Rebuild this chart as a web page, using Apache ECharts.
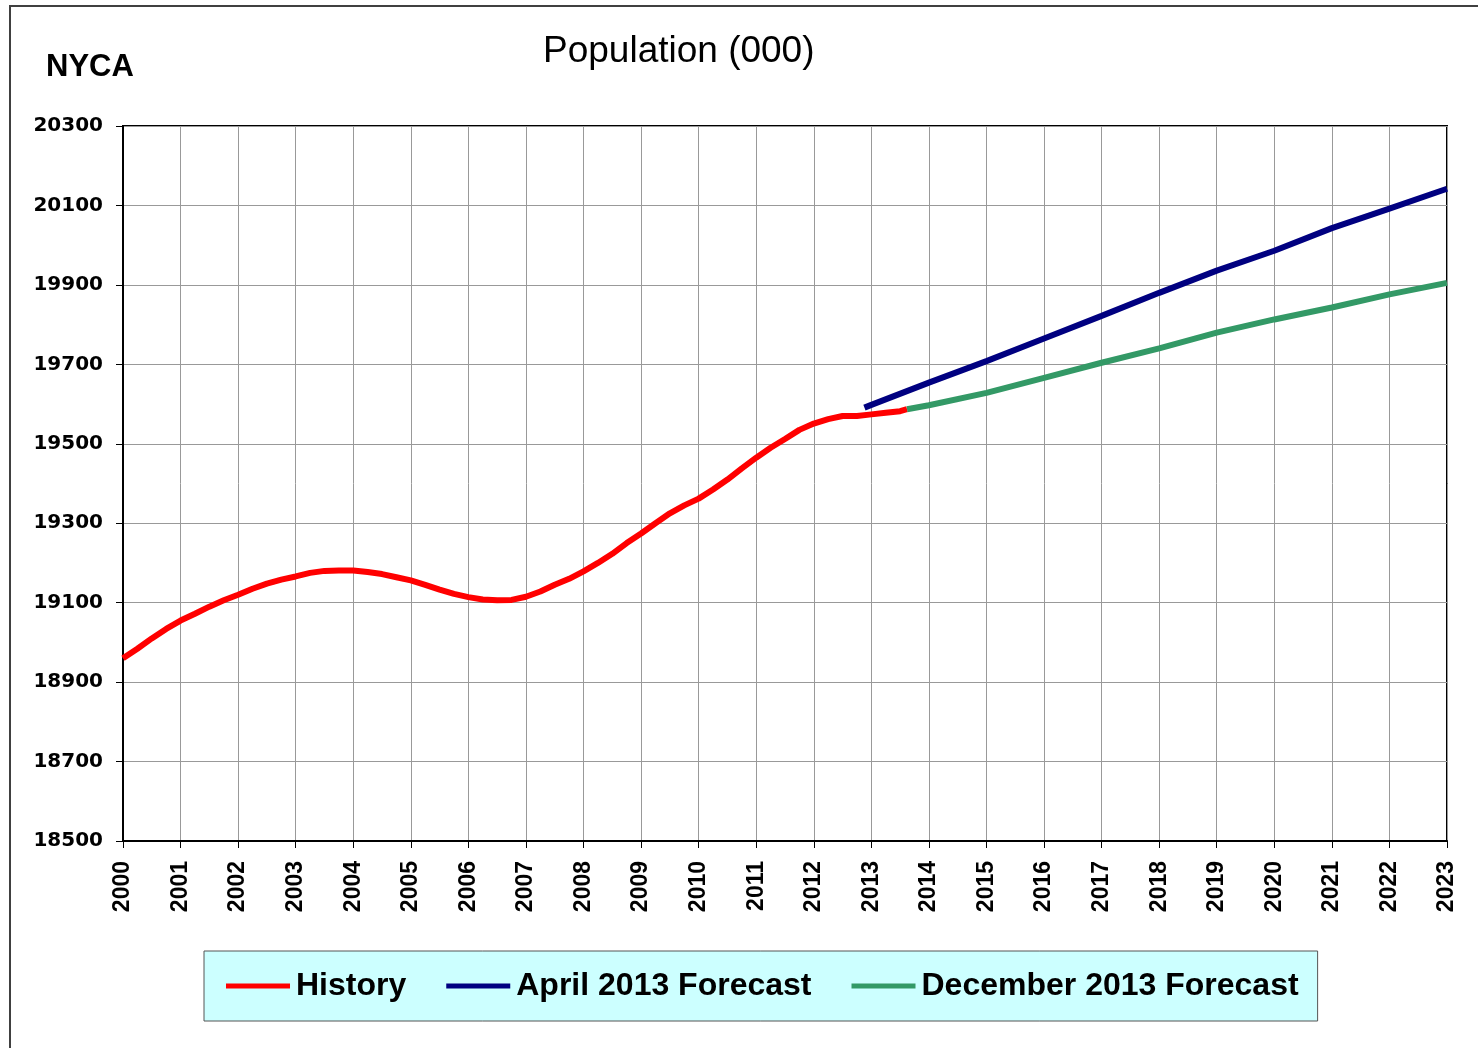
<!DOCTYPE html>
<html>
<head>
<meta charset="utf-8">
<script src="https://cdn.jsdelivr.net/npm/echarts@6/dist/echarts.min.js"></script>
<style>
  html, body { margin: 0; padding: 0; background: #fff; }
  #chart { width: 1478px; height: 1048px; }
</style>
</head>
<body>
<div id="chart"></div>
<script>
// history, quarterly (year, population in thousands)
const historyYears = [
  2000, 2000.25, 2000.5, 2000.75, 2001, 2001.25, 2001.5, 2001.75,
  2002, 2002.25, 2002.5, 2002.75, 2003, 2003.25, 2003.5, 2003.75,
  2004, 2004.25, 2004.5, 2004.75, 2005, 2005.25, 2005.5, 2005.75,
  2006, 2006.25, 2006.5, 2006.75, 2007, 2007.25, 2007.5, 2007.75,
  2008, 2008.25, 2008.5, 2008.75, 2009, 2009.25, 2009.5, 2009.75,
  2010, 2010.25, 2010.5, 2010.75, 2011, 2011.25, 2011.5, 2011.75,
  2012, 2012.25, 2012.5, 2012.75, 2013, 2013.25, 2013.5, 2013.62
]
const historyValues = [
  18960, 18984, 19010, 19034, 19055, 19072, 19090, 19106,
  19120, 19135, 19148, 19158, 19166, 19175, 19180, 19181,
  19181, 19177, 19172, 19164, 19156, 19145, 19133, 19122,
  19114, 19108, 19106, 19107, 19115, 19128, 19145, 19160,
  19179, 19200, 19223, 19250, 19274, 19300, 19325, 19345,
  19362, 19385, 19410, 19438, 19465, 19490, 19512, 19535,
  19551, 19562, 19570, 19570, 19574, 19578, 19582, 19587
]

const aprilYears = [2012.88, 2013, 2014, 2015, 2016, 2017, 2018, 2019, 2020, 2021, 2022, 2023]
const aprilValues = [19591, 19598, 19654, 19708, 19765, 19822, 19880, 19936, 19986, 20043, 20092, 20142]

const decemberYears = [2013.62, 2014, 2015, 2016, 2017, 2018, 2019, 2020, 2021, 2022, 2023]
const decemberValues = [19587, 19597, 19628, 19666, 19704, 19740, 19780, 19813, 19843, 19876, 19905]

const seriesNames = ['History', 'April 2013 Forecast', 'December 2013 Forecast']
const seriesColors = ['#ff0000', '#000080', '#339966']

function pairs (xs, ys) {
  return xs.map((x, i) => [x, ys[i]])
}

const chart = echarts.init(document.getElementById('chart'))

const option = {
  animation: false,
  backgroundColor: '#fff',
  textStyle: { fontFamily: 'Liberation Sans, Arial, sans-serif' },
  graphic: [
    {
      type: 'rect',
      shape: { x: 10, y: 6, width: 1600, height: 1200 },
      style: { fill: 'none', stroke: '#404040', lineWidth: 2 },
      silent: true
    }
  ],
  title: [
    {
      text: 'Population (000)',
      left: 538,
      top: 28,
      textStyle: { fontSize: 37, fontWeight: 'normal', color: '#000' }
    },
    {
      text: 'NYCA',
      left: 41,
      top: 47,
      textStyle: { fontSize: 31, fontWeight: 'bold', color: '#000' }
    }
  ],
  legend: {
    left: 204,
    top: 951,
    padding: [19, 19, 19, 22],
    backgroundColor: '#ccffff',
    borderColor: '#555',
    borderWidth: 1,
    itemWidth: 64,
    itemHeight: 5,
    itemGap: 40,
    icon: 'rect',
    data: seriesNames,
    textStyle: { fontSize: 32, fontWeight: 'bold', color: '#000', padding: [0, 0, 0, 1] }
  },
  grid: {
    left: 123,
    top: 126,
    right: 31,
    bottom: 207,
    show: true,
    borderColor: '#000',
    borderWidth: 2,
    backgroundColor: 'transparent'
  },
  xAxis: {
    type: 'value',
    min: 2000,
    max: 2023,
    interval: 1,
    axisLine: { lineStyle: { color: '#000', width: 2 } },
    axisTick: { show: true, length: 7, lineStyle: { color: '#000', width: 1 } },
    splitLine: { show: true, lineStyle: { color: '#999', width: 1 } },
    axisLabel: {
      rotate: 90,
      margin: 20,
      fontSize: 23,
      fontWeight: 'bold',
      color: '#000',
      formatter: v => String(v)
    }
  },
  yAxis: {
    type: 'value',
    min: 18500,
    max: 20300,
    interval: 200,
    axisLine: { show: true, lineStyle: { color: '#000', width: 2 } },
    axisTick: { show: true, length: 7, lineStyle: { color: '#000', width: 1 } },
    splitLine: { show: true, lineStyle: { color: '#999', width: 1 } },
    axisLabel: {
      margin: 20,
      fontSize: 20,
      fontWeight: 'bold',
      fontFamily: 'DejaVu Sans',
      color: '#000',
      padding: [4, 0, 0, 0],
      formatter: v => String(v)
    }
  },
  series: [
    {
      name: seriesNames[0],
      type: 'line',
      data: pairs(historyYears, historyValues),
      showSymbol: false,
      color: seriesColors[0],
      lineStyle: { width: 6, color: seriesColors[0] }
    },
    {
      name: seriesNames[1],
      type: 'line',
      data: pairs(aprilYears, aprilValues),
      showSymbol: false,
      color: seriesColors[1],
      lineStyle: { width: 6, color: seriesColors[1] }
    },
    {
      name: seriesNames[2],
      type: 'line',
      data: pairs(decemberYears, decemberValues),
      showSymbol: false,
      color: seriesColors[2],
      lineStyle: { width: 6, color: seriesColors[2] }
    }
  ]
}

chart.setOption(option)
</script>
</body>
</html>
